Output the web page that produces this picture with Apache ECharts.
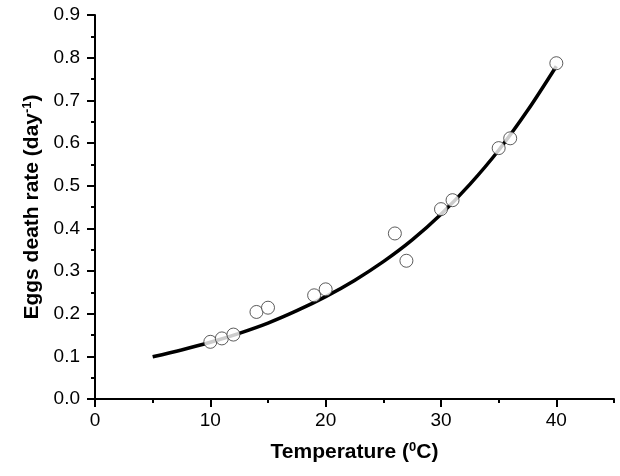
<!DOCTYPE html>
<html>
<head>
<meta charset="utf-8">
<script src="https://cdn.jsdelivr.net/npm/echarts@6/dist/echarts.min.js"></script>
<style>html,body{margin:0;padding:0;background:#fff}#c{width:620px;height:476px}</style>
</head>
<body>
<div id="c"></div>
<script>
// Observed data (temperature °C, eggs death rate day^-1)
var obsTemp = [10, 11, 12, 14, 15, 19, 20, 26, 27, 30, 31, 35, 36, 40];
var obsRate = [0.134, 0.142, 0.151, 0.204, 0.214, 0.243, 0.257, 0.388, 0.324, 0.445, 0.466, 0.588, 0.611, 0.787];
// Fitted curve
var fitTemp = [5, 7.5, 10, 12.5, 15, 17.5, 20, 22.5, 25, 27.5, 30, 32.5, 35, 37.5, 40];
var fitRate = [0.099, 0.115, 0.133, 0.154, 0.178, 0.207, 0.240, 0.278, 0.322, 0.373, 0.433, 0.503, 0.583, 0.676, 0.780];
// Tick labels
var xTickLabels = [0, 10, 20, 30, 40];

var FONT = '"Liberation Sans", Arial, sans-serif';
var supStyle = {fontSize: 13, fontWeight: 'bold', fontFamily: FONT, color: '#000', padding: [0, 0, 10, 0]};
var X_MAX = 45, X_MAJOR_MAX = 40;
var GL = 95, GR = 6, GT = 15, GB = 77, W = 620;
var plotW = W - GL - GR;
var majorRight = W - GL - plotW * X_MAJOR_MAX / X_MAX;

var chart = echarts.init(document.getElementById('c'), null, {renderer: 'canvas'});
chart.setOption({
  animation: false,
  backgroundColor: '#fff',
  grid: [
    {left: GL, right: GR, top: GT, bottom: GB},
    {left: GL, right: majorRight, top: GT, bottom: GB}
  ],
  xAxis: [
    {
      type: 'value', min: 0, max: X_MAX, interval: 5, gridIndex: 0,
      axisLine: {show: true, onZero: false, lineStyle: {color: '#000', width: 2}},
      axisTick: {show: true, inside: false, length: 4, lineStyle: {color: '#000', width: 2}},
      splitLine: {show: false},
      axisLabel: {
        color: '#000', fontFamily: FONT, fontSize: 19, margin: 12,
        formatter: function (v) { return xTickLabels.indexOf(v) >= 0 ? String(v) : ''; }
      },
      name: 'Temperature ({sup|0}C)',
      nameLocation: 'middle', nameGap: 42,
      nameTextStyle: {
        color: '#000', fontFamily: FONT, fontSize: 21, fontWeight: 'bold',
        rich: {sup: supStyle}
      }
    },
    {
      type: 'value', min: 0, max: X_MAJOR_MAX, interval: 10, gridIndex: 1,
      axisLine: {show: false, onZero: false},
      axisTick: {show: true, inside: false, length: 8, lineStyle: {color: '#000', width: 2}},
      splitLine: {show: false},
      axisLabel: {show: false}
    }
  ],
  yAxis: [
    {
      type: 'value', min: 0, max: 0.9, interval: 0.1, gridIndex: 0,
      axisLine: {show: true, onZero: false, lineStyle: {color: '#000', width: 2}},
      axisTick: {show: true, inside: false, length: 8, lineStyle: {color: '#000', width: 2}},
      minorTick: {show: true, splitNumber: 2, length: 4, lineStyle: {color: '#000', width: 2}},
      splitLine: {show: false},
      axisLabel: {
        color: '#000', fontFamily: FONT, fontSize: 19, margin: 15,
        formatter: function (v) { return v.toFixed(1); }
      },
      name: 'Eggs death rate (day{sup|-1})',
      nameLocation: 'middle', nameGap: 50, nameRotate: 90,
      nameTextStyle: {
        color: '#000', fontFamily: FONT, fontSize: 21, fontWeight: 'bold',
        rich: {sup: supStyle}
      }
    },
    {
      type: 'value', min: 0, max: 0.9, gridIndex: 1, show: false
    }
  ],
  series: [
    {
      type: 'line', smooth: 0.3, showSymbol: false, symbol: 'none',
      xAxisIndex: 0, yAxisIndex: 0,
      data: fitTemp.map(function (t, i) { return [t, fitRate[i]]; }),
      lineStyle: {color: '#000', width: 3.5}, z: 2
    },
    {
      type: 'scatter', symbol: 'circle', symbolSize: 13,
      xAxisIndex: 0, yAxisIndex: 0,
      data: obsTemp.map(function (t, i) { return [t, obsRate[i]]; }),
      itemStyle: {color: '#fff', borderColor: '#333', borderWidth: 1}, z: 3
    }
  ]
});
</script>
</body>
</html>
